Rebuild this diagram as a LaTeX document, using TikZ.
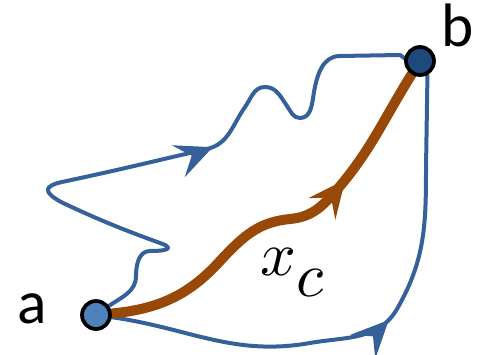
\documentclass[tikz,border=0pt]{standalone}
\usepackage{fontspec}
\usepackage{unicode-math}
\newfontfamily\labelfont{Carlito}
\usetikzlibrary{arrows.meta,decorations.markings,backgrounds}
\definecolor{pathblue}{HTML}{35609A}
\definecolor{dotlight}{HTML}{4F81BD}
\definecolor{dotdark}{HTML}{1F497D}
\definecolor{pathorange}{HTML}{984807}
\begin{document}
\begin{tikzpicture}[
  x=0.75pt, y=0.75pt,
  endpt/.style={circle, draw=black, line width=2.8pt, minimum size=21pt, inner sep=0pt},
  letter/.style={font=\labelfont\fontsize{46}{50}\selectfont, inner sep=0pt, anchor=base west},
  midarrow/.style={postaction={decorate},
    decoration={markings, mark=at position #1 with {\arrow{Stealth[length=28pt,width=26pt,inset=11pt,line width=0pt]}}}},
  bluepath/.style={draw, color=pathblue, line width=3pt, line cap=round, line join=round},
  redpath/.style={draw, color=pathorange, line width=7.5pt, line cap=round}
]
\useasboundingbox (0,0) rectangle (482,354);

% end points and labels
\node[endpt, fill=dotlight] (a) at (96,39) {};
\node[endpt, fill=dotdark] (b) at (420,293) {};
\node[letter] (la) at (17,31) {a};
\node[letter] (lb) at (441,307) {b};
\node[inner sep=0pt, anchor=base west, font=\fontsize{47}{50}\selectfont] (xc) at (260,79) {$x$\raisebox{-0.34em}{$c$}};

\begin{scope}[on background layer]
% wiggly upper path
\draw[bluepath, midarrow=0.59] (a) to[out=35,in=-90] (136,78)
  to[out=90,in=180] (150,103)
  .. controls (172,103) and (172,107) .. (160,111)
  to[out=160,in=-25] (63,151)
  .. controls (42,162) and (44,168) .. (62,172)
  to[out=12,in=193] (207,205)
  to[out=13,in=235] (245,247)
  to[out=55,in=180] (265,267)
  to[out=0,in=125] (287,248)
  to[out=-55,in=180] (300,236)
  to[out=0,in=-100] (314,262)
  to[out=80,in=180] (340,298)
  -- (400,299) to[out=0,in=170] (b);
% lower path
\draw[bluepath, midarrow=0.53] (a) to[out=-8,in=190] (310,11)
  to[out=10,in=-120] (397,45)
  to[out=60,in=-90] (426,185)
  -- (b.-62);
% classical path
\draw[redpath, midarrow=0.69] (a) .. controls (160,45) and (190,60) .. (220,93)
  .. controls (245,120) and (260,132) .. (290,135)
  .. controls (310,137) and (320,145) .. (335,162)
  to[out=49,in=-122] (b);
\end{scope}
\end{tikzpicture}
\end{document}
